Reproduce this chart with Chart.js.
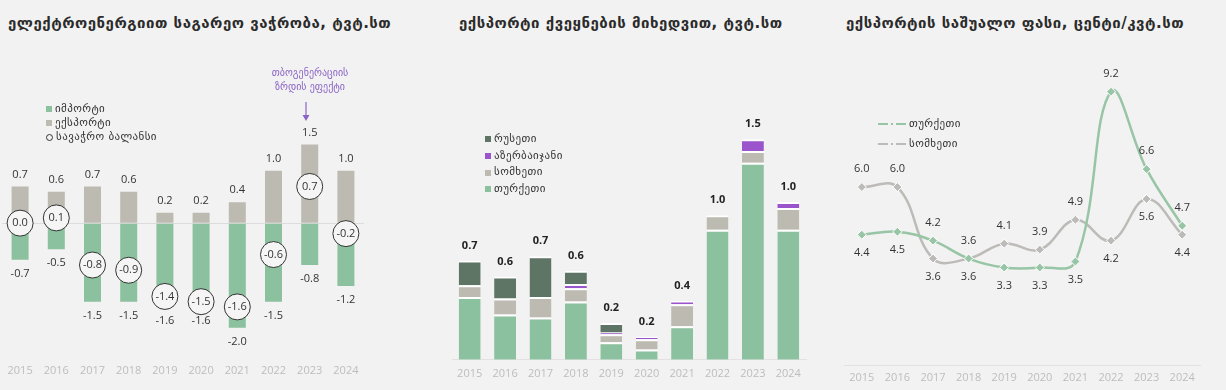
<!DOCTYPE html>
<html>
<head>
<meta charset="utf-8">
<script src="https://cdn.jsdelivr.net/npm/chart.js@4.4.1/dist/chart.umd.min.js"></script>
<style>
  body { margin: 0; background: #f2f2f2; width: 1226px; height: 390px; overflow: hidden; position: relative;
         font-family: "DejaVu Sans", sans-serif; color: #2b2b2b; }
  .title { position: absolute; top: 14px; font-size: 15px; letter-spacing: 0.5px; font-weight: bold; white-space: nowrap; color: #2b2b2b; }
  canvas { position: absolute; }
  .lg { position: absolute; font-size: 11px; letter-spacing: 0.4px; white-space: nowrap; color: #333; }
  .lg div { display: flex; align-items: center; }
  .sq { display: inline-block; width: 6px; height: 6px; margin-right: 3px; }
  .ring { display: inline-block; width: 5px; height: 5px; border: 1px solid #333; border-radius: 50%; margin-right: 3px; }
  .note { position: absolute; left: 260px; width: 100px; top: 66px; text-align: center; font-size: 10px;
          line-height: 14px; color: #8b64c6; }
</style>
</head>
<body>
<div class="title" style="left:8px">ელექტროენერგიით საგარეო ვაჭრობა, ტვტ.სთ</div>
<div class="title" style="left:459px">ექსპორტი ქვეყნების მიხედვით, ტვტ.სთ</div>
<div class="title" style="left:846px">ექსპორტის საშუალო ფასი, ცენტი/კვტ.სთ</div>

<canvas id="trade" width="372" height="340" style="left:0;top:40px"></canvas>
<canvas id="byCountry" width="380" height="300" style="left:440px;top:90px"></canvas>
<canvas id="price" width="396" height="349" style="left:830px;top:40px"></canvas>

<div class="note">თბოგენერაციის<br>ზრდის ეფექტი</div>
<svg style="position:absolute;left:300px;top:100px" width="12" height="24">
  <line x1="6" y1="2" x2="6" y2="18" stroke="#8b64c6" stroke-width="1.2"/>
  <path d="M2.5 15 L6 21 L9.5 15 Z" fill="#8b64c6"/>
</svg>

<div class="lg" style="left:46px;top:102px;line-height:14px">
  <div><span class="sq" style="background:#8cc19f"></span>იმპორტი</div>
  <div><span class="sq" style="background:#bcbab1"></span>ექსპორტი</div>
  <div><span class="ring"></span>სავაჭრო ბალანსი</div>
</div>

<div class="lg" style="left:485px;top:131px;line-height:16.7px">
  <div><span class="sq" style="background:#5e7565"></span>რუსეთი</div>
  <div><span class="sq" style="background:#9b55cc"></span>აზერბაიჯანი</div>
  <div><span class="sq" style="background:#bcbab1"></span>სომხეთი</div>
  <div><span class="sq" style="background:#8cc19f"></span>თურქეთი</div>
</div>

<div class="lg" style="left:878px;top:114px;line-height:20px">
  <div><svg width="29" height="6" style="margin-right:2px"><line x1="0" y1="3" x2="29" y2="3" stroke="#97c5a5" stroke-width="2" stroke-dasharray="10,3,2,3"/></svg>თურქეთი</div>
  <div><svg width="29" height="6" style="margin-right:2px"><line x1="0" y1="3" x2="29" y2="3" stroke="#bdbbb7" stroke-width="2" stroke-dasharray="10,3,2,3"/></svg>სომხეთი</div>
</div>

<script>
const years = ['2015', '2016', '2017', '2018', '2019', '2020', '2021', '2022', '2023', '2024'];

// panel 1 - trade, TWh
const importVals = [-0.7, -0.5, -1.5, -1.5, -1.6, -1.6, -2.0, -1.5, -0.8, -1.2];
const exportVals = [0.7, 0.6, 0.7, 0.6, 0.2, 0.2, 0.4, 1.0, 1.5, 1.0];
const balanceVals = [0.0, 0.1, -0.8, -0.9, -1.4, -1.5, -1.6, -0.6, 0.7, -0.2];

// panel 2 - export by country, TWh
const turkey = [0.43, 0.31, 0.29, 0.40, 0.12, 0.07, 0.23, 0.89, 1.35, 0.89];
const armenia = [0.08, 0.11, 0.14, 0.09, 0.055, 0.07, 0.15, 0.10, 0.08, 0.15];
const azerbaijan = [0, 0, 0, 0.03, 0.012, 0.02, 0.025, 0, 0.08, 0.04];
const russia = [0.17, 0.15, 0.28, 0.09, 0.065, 0, 0, 0, 0, 0];
const exportTotals = [0.7, 0.6, 0.7, 0.6, 0.2, 0.2, 0.4, 1.0, 1.5, 1.0];

// panel 3 - average export price, cents/kWh
const priceTurkey = [4.4, 4.5, 4.2, 3.6, 3.3, 3.3, 3.5, 9.2, 6.6, 4.7];
const priceArmenia = [6.0, 6.0, 3.6, 3.6, 4.1, 3.9, 4.9, 4.2, 5.6, 4.4];
const turkeyLabelPos = ['below', 'below', 'above', 'below', 'below', 'below', 'below', 'above', 'above', 'above'];
const armeniaLabelPos = ['above', 'above', 'below', 'above', 'above', 'above', 'above', 'below', 'below', 'below'];

const numFont = '"Open Sans", "DejaVu Sans", sans-serif';
Chart.defaults.font.family = numFont;
Chart.defaults.animation = false;
Chart.defaults.responsive = false;
Chart.defaults.devicePixelRatio = 1;
Chart.defaults.plugins.legend.display = false;
Chart.defaults.plugins.tooltip.enabled = false;

const xTicks = { color: '#bdbdbd', font: { size: 11 }, padding: 3, autoSkip: false, maxRotation: 0 };

// labels for panel 1
const tradeLabels = {
  id: 'tradeLabels',
  afterDatasetsDraw(chart) {
    const { ctx, scales: { x, y } } = chart;
    ctx.save();
    ctx.font = '11px ' + numFont;
    ctx.fillStyle = '#333';
    ctx.textAlign = 'center';
    ctx.textBaseline = 'middle';
    years.forEach((yr, i) => {
      const px = x.getPixelForValue(i);
      ctx.fillText(exportVals[i].toFixed(1), px, y.getPixelForValue(exportVals[i]) - 12);
      ctx.fillText(importVals[i].toFixed(1), px, y.getPixelForValue(importVals[i]) + 14);
      ctx.fillText(balanceVals[i].toFixed(1), px, y.getPixelForValue(balanceVals[i]));
    });
    ctx.restore();
  }
};

new Chart(document.getElementById('trade'), {
  data: {
    labels: years,
    datasets: [
      { type: 'line', data: balanceVals, showLine: false, stack: 'bal', order: 0,
        pointRadius: 13, pointBackgroundColor: '#f5f5f5', pointBorderColor: '#333', pointBorderWidth: 1 },
      { type: 'bar', data: exportVals, backgroundColor: '#bcbab1', stack: 'trade', order: 1 },
      { type: 'bar', data: importVals, backgroundColor: '#8cc19f', stack: 'trade', order: 1 }
    ]
  },
  options: {
    layout: { autoPadding: false, padding: { left: 2, right: 8, top: 47, bottom: 0 } },
    datasets: { bar: { barPercentage: 0.47, categoryPercentage: 1 } },
    scales: {
      x: { stacked: true, offset: true,
           grid: { display: true, drawOnChartArea: false, drawTicks: true, tickLength: 12, color: 'rgba(0,0,0,0)' },
           border: { display: false }, ticks: xTicks },
      y: { stacked: true, min: -2.4, max: 2.6,
           afterFit: s => { s.width = 0; },
           grid: { drawTicks: false, color: c => c.tick.value === 0 ? '#dcdcdc' : 'rgba(0,0,0,0)' },
           border: { display: false }, ticks: { display: false, stepSize: 0.2 } }
    }
  },
  plugins: [tradeLabels]
});

// totals for panel 2
const totalLabels = {
  id: 'totalLabels',
  afterDatasetsDraw(chart) {
    const { ctx, scales: { x, y } } = chart;
    ctx.save();
    ctx.font = 'bold 11px ' + numFont;
    ctx.fillStyle = '#222';
    ctx.textAlign = 'center';
    ctx.textBaseline = 'middle';
    years.forEach((yr, i) => {
      const top = turkey[i] + armenia[i] + azerbaijan[i] + russia[i];
      ctx.fillText(exportTotals[i].toFixed(1), x.getPixelForValue(i), y.getPixelForValue(top) - 15);
    });
    ctx.restore();
  }
};

const seg = { borderColor: '#ffffff', borderWidth: { top: 2, left: 0, right: 0, bottom: 0 }, borderSkipped: false };
new Chart(document.getElementById('byCountry'), {
  type: 'bar',
  data: {
    labels: years,
    datasets: [
      { data: turkey, backgroundColor: '#8cc19f', ...seg },
      { data: armenia, backgroundColor: '#bcbab1', ...seg },
      { data: azerbaijan, backgroundColor: '#9b55cc', ...seg },
      { data: russia, backgroundColor: '#5e7565', ...seg }
    ]
  },
  options: {
    layout: { padding: { left: 12, right: 14, top: 7, bottom: 3 } },
    datasets: { bar: { barPercentage: 0.62, categoryPercentage: 1 } },
    scales: {
      x: { stacked: true, grid: { display: false, drawTicks: false }, border: { display: true, color: '#e2e2e2' },
           ticks: { ...xTicks, padding: 7 } },
      y: { stacked: true, display: false, min: 0, max: 1.8 }
    }
  },
  plugins: [totalLabels]
});

// point labels for panel 3
const priceLabels = {
  id: 'priceLabels',
  afterDatasetsDraw(chart) {
    const { ctx, scales: { x, y } } = chart;
    ctx.save();
    ctx.font = '11px ' + numFont;
    ctx.fillStyle = '#333';
    ctx.textAlign = 'center';
    ctx.textBaseline = 'middle';
    const put = (vals, pos) => vals.forEach((v, i) => {
      const dy = pos[i] === 'above' ? -18 : 18;
      ctx.fillText(v.toFixed(1), x.getPixelForValue(i), y.getPixelForValue(v) + dy);
    });
    put(priceTurkey, turkeyLabelPos);
    put(priceArmenia, armeniaLabelPos);
    ctx.restore();
  }
};

const lineStyle = { tension: 0.4, borderWidth: 2.5, pointStyle: 'rectRot', pointRadius: 4.5,
                    pointBorderColor: '#ffffff', pointBorderWidth: 1 };
new Chart(document.getElementById('price'), {
  type: 'line',
  data: {
    labels: years,
    datasets: [
      { data: priceTurkey, borderColor: '#97c5a5', pointBackgroundColor: '#97c5a5', order: 0, ...lineStyle },
      { data: priceArmenia, borderColor: '#bdbbb7', pointBackgroundColor: '#bdbbb7', order: 1, ...lineStyle }
    ]
  },
  options: {
    layout: { padding: { left: 14, right: 26, top: 13, bottom: 0 } },
    scales: {
      x: { offset: true, grid: { display: false, drawTicks: false }, border: { display: true, color: '#e2e2e2' },
           ticks: { ...xTicks, padding: 5 } },
      y: { display: false, min: 0, max: 10.5 }
    }
  },
  plugins: [priceLabels]
});
</script>
</body>
</html>
